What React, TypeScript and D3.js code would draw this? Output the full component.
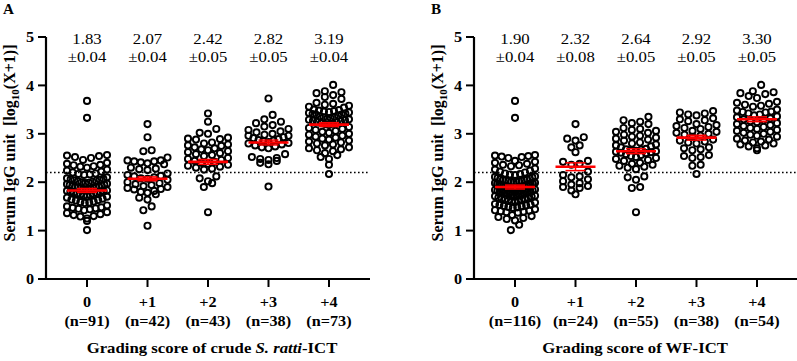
import * as d3 from "d3";

// grading score groups
const categories = ["0", "+1", "+2", "+3", "+4"];

// crude S. ratti-ICT
const countsA = [91, 42, 43, 38, 73];
const meansA = [1.83, 2.07, 2.42, 2.82, 3.19];
const semsA = [0.04, 0.04, 0.05, 0.05, 0.04];

// WF-ICT
const countsB = [116, 24, 55, 38, 54];
const meansB = [1.9, 2.32, 2.64, 2.92, 3.3];
const semsB = [0.04, 0.08, 0.05, 0.05, 0.05];

const cutoff = 2.2;

// individual serum IgG values, log10(X+1)
const a0 = [
  3.68, 3.33, 2.56, 2.55, 2.54, 2.52, 2.5, 2.46, 2.4, 2.38, 2.36, 2.35, 2.33, 2.32,
  2.3, 2.26, 2.24, 2.22, 2.2, 2.18, 2.17, 2.16, 2.15, 2.1, 2.08, 2.07, 2.06, 2.05,
  2.04, 2.03, 2.02, 2.01, 2.0, 1.99, 1.98, 1.97, 1.96, 1.95, 1.94, 1.93, 1.92, 1.91,
  1.9, 1.89, 1.89, 1.88, 1.87, 1.86, 1.85, 1.85, 1.84, 1.83, 1.82, 1.81, 1.8, 1.79,
  1.78, 1.77, 1.76, 1.75, 1.74, 1.73, 1.72, 1.71, 1.7, 1.68, 1.66, 1.64, 1.63, 1.62,
  1.6, 1.59, 1.58, 1.57, 1.52, 1.5, 1.48, 1.47, 1.46, 1.45, 1.44, 1.42, 1.38, 1.36,
  1.34, 1.32, 1.3, 1.29, 1.25, 1.2, 1.01,
];
const a1 = [
  3.2, 2.93, 2.66, 2.64, 2.51, 2.45, 2.43, 2.41, 2.39, 2.37, 2.43, 2.45, 2.3, 2.28,
  2.27, 2.25, 2.18, 2.15, 2.13, 2.12, 2.1, 2.08, 2.07, 2.05, 2.0, 1.98, 1.96, 1.94,
  1.92, 1.9, 1.88, 1.86, 1.85, 1.82, 1.8, 1.78, 1.75, 1.68, 1.64, 1.5, 1.42, 1.1,
];
const a2 = [
  3.42, 3.25, 3.1, 3.02, 3.0, 2.92, 2.9, 2.89, 2.88, 2.82, 2.8, 2.78, 2.76, 2.75,
  2.72, 2.7, 2.68, 2.66, 2.64, 2.62, 2.6, 2.58, 2.56, 2.54, 2.5, 2.48, 2.46, 2.44,
  2.42, 2.4, 2.38, 2.36, 2.34, 2.32, 2.3, 2.28, 2.26, 2.12, 2.08, 2.02, 1.98, 1.9,
  1.38,
];
const a3 = [
  3.73, 3.39, 3.3, 3.25, 3.22, 3.18, 3.15, 3.1, 3.08, 3.05, 3.03, 3.0, 2.98, 2.96,
  2.96, 2.93, 2.91, 2.89, 2.87, 2.86, 2.85, 2.83, 2.81, 2.8, 2.78, 2.76, 2.74, 2.72,
  2.7, 2.58, 2.52, 2.5, 2.48, 2.46, 2.44, 2.4, 2.37, 1.91,
];
const a4 = [
  4.01, 3.88, 3.86, 3.84, 3.8, 3.76, 3.72, 3.64, 3.62, 3.6, 3.58, 3.56, 3.54, 3.5,
  3.49, 3.48, 3.47, 3.46, 3.45, 3.44, 3.43, 3.42, 3.41, 3.4, 3.39, 3.38, 3.36, 3.35,
  3.34, 3.32, 3.31, 3.3, 3.29, 3.28, 3.27, 3.26, 3.25, 3.24, 3.22, 3.21, 3.2, 3.18,
  3.14, 3.12, 3.1, 3.08, 3.06, 3.04, 3.02, 3.0, 2.98, 2.96, 2.94, 2.92, 2.9, 2.88,
  2.86, 2.84, 2.82, 2.8, 2.78, 2.76, 2.72, 2.7, 2.68, 2.66, 2.64, 2.6, 2.56, 2.52,
  2.48, 2.36, 2.17,
];

const b0 = [
  3.68, 3.33, 2.56, 2.55, 2.54, 2.53, 2.52, 2.5, 2.44, 2.42, 2.4, 2.38, 2.36, 2.35,
  2.33, 2.28, 2.26, 2.24, 2.22, 2.2, 2.18, 2.17, 2.16, 2.15, 2.12, 2.11, 2.1, 2.09,
  2.08, 2.07, 2.06, 2.05, 2.05, 2.04, 2.03, 2.03, 2.02, 2.01, 2.01, 2.0, 1.99, 1.98,
  1.97, 1.96, 1.96, 1.95, 1.94, 1.94, 1.93, 1.92, 1.92, 1.91, 1.9, 1.9, 1.89, 1.88,
  1.88, 1.87, 1.86, 1.86, 1.85, 1.84, 1.83, 1.82, 1.82, 1.81, 1.8, 1.8, 1.79, 1.78,
  1.78, 1.77, 1.76, 1.76, 1.75, 1.74, 1.74, 1.73, 1.72, 1.71, 1.7, 1.68, 1.67, 1.66,
  1.65, 1.64, 1.63, 1.62, 1.61, 1.6, 1.59, 1.58, 1.55, 1.54, 1.53, 1.52, 1.51, 1.5,
  1.49, 1.48, 1.47, 1.44, 1.42, 1.41, 1.4, 1.39, 1.38, 1.37, 1.32, 1.3, 1.28, 1.26,
  1.24, 1.21, 1.12, 1.01,
];
const b1 = [
  3.2, 2.93, 2.9, 2.86, 2.76, 2.72, 2.62, 2.44, 2.42, 2.38, 2.36, 2.22, 2.15, 2.12,
  2.1, 2.06, 2.02, 1.98, 1.95, 1.92, 1.9, 1.88, 1.83, 1.75,
];
const b2 = [
  3.35, 3.28, 3.25, 3.22, 3.2, 3.12, 3.1, 3.08, 3.06, 3.04, 3.02, 2.98, 2.96, 2.94,
  2.92, 2.9, 2.88, 2.86, 2.82, 2.8, 2.78, 2.76, 2.74, 2.72, 2.69, 2.68, 2.67, 2.66,
  2.65, 2.64, 2.63, 2.62, 2.61, 2.6, 2.58, 2.56, 2.54, 2.52, 2.5, 2.48, 2.46, 2.44,
  2.4, 2.38, 2.36, 2.34, 2.32, 2.3, 2.27, 2.12, 2.1, 2.05, 1.9, 1.88, 1.38,
];
const b3 = [
  3.47, 3.44, 3.42, 3.4, 3.38, 3.32, 3.3, 3.28, 3.26, 3.2, 3.18, 3.16, 3.14, 3.12,
  3.1, 3.06, 3.04, 3.02, 3.0, 2.98, 2.96, 2.94, 2.88, 2.86, 2.84, 2.82, 2.8, 2.72,
  2.7, 2.68, 2.66, 2.56, 2.54, 2.52, 2.5, 2.36, 2.34, 2.17,
];
const b4 = [
  4.01, 3.88, 3.86, 3.84, 3.82, 3.78, 3.74, 3.66, 3.64, 3.62, 3.6, 3.58, 3.56, 3.5,
  3.48, 3.46, 3.45, 3.44, 3.42, 3.4, 3.38, 3.36, 3.34, 3.32, 3.3, 3.28, 3.26, 3.24,
  3.22, 3.2, 3.18, 3.16, 3.14, 3.12, 3.1, 3.08, 3.06, 3.04, 3.02, 3.0, 2.98, 2.96,
  2.94, 2.9, 2.88, 2.86, 2.84, 2.82, 2.8, 2.78, 2.76, 2.74, 2.7, 2.66,
];

const groupsA = [a0, a1, a2, a3, a4];
const groupsB = [b0, b1, b2, b3, b4];

const W = 797;
const H = 361;
const FONT = "'Liberation Serif', 'Times New Roman', serif";
const SX = 1.08; // slightly widened lettering

const y = d3.scaleLinear().domain([0, 5]).range([279, 37]);

// scatter layout: bin into rows, spread each row sideways, lowest value in the middle
const R = 3.1;
const GAP = 8.3;
const HALF = 20;
const BIN = 0.13;

function swarm(values: number[], cx: number) {
  const sorted = [...values].sort((p, q) => q - p);
  const rows: number[][] = [];
  let cur: number[] = [];
  for (const v of sorted) {
    if (cur.length && cur[0] - v >= BIN) {
      rows.push(cur);
      cur = [];
    }
    cur.push(v);
  }
  if (cur.length) rows.push(cur);

  const out: { x: number; y: number }[] = [];
  rows.forEach((row) => {
    const k = row.length;
    const step = k > 1 ? Math.min(GAP, (2 * HALF) / (k - 1)) : 0;
    const slots = d3
      .range(k)
      .map((i) => (i - (k - 1) / 2) * step)
      .sort((p, q) => Math.abs(p) - Math.abs(q) || p - q);
    const asc = [...row].sort((p, q) => p - q);
    asc.forEach((v, i) => out.push({ x: cx + slots[i], y: y(v) }));
  });
  return out;
}

function Label({ x, y: ty, children, ...rest }: any) {
  return (
    <text transform={`translate(${x},${ty}) scale(${SX},1)`} {...rest}>
      {children}
    </text>
  );
}

type PanelProps = {
  offset: number;
  letter: string;
  groups: number[][];
  means: number[];
  sems: number[];
  counts: number[];
  title: React.ReactNode;
  titleX: number;
};

function Panel({ offset, letter, groups, means, sems, counts, title, titleX }: PanelProps) {
  const axisX = offset + 46;
  const axisEnd = offset + 370;
  const x = d3.scalePoint<string>().domain(categories).range([axisX, axisEnd]).padding(0.678);
  const yTicks = y.ticks(5);

  return (
    <g fontFamily={FONT}>
      <Label x={offset + 3} y={14} fontSize={14} fontWeight="bold">
        {letter}
      </Label>

      {/* y axis label */}
      <text
        transform={`translate(${offset + 15},${143}) rotate(-90)`}
        textAnchor="middle"
        fontSize={16}
        fontWeight="bold"
      >
        {"Serum IgG unit\u00a0\u00a0[log"}
        <tspan fontSize={11} dy={4}>
          10
        </tspan>
        <tspan dy={-4}>(X+1)]</tspan>
      </text>

      {/* cut-off */}
      <line
        x1={axisX}
        x2={axisEnd}
        y1={y(cutoff)}
        y2={y(cutoff)}
        stroke="#000"
        strokeWidth={1.6}
        strokeDasharray="1.6,2.4"
      />

      {/* axes */}
      <line x1={axisX} x2={axisX} y1={y(0)} y2={y(5)} stroke="#000" strokeWidth={2.2} />
      <line x1={axisX - 8} x2={axisEnd} y1={y(0)} y2={y(0)} stroke="#000" strokeWidth={2.2} />
      {yTicks.map((t) => (
        <g key={t}>
          <line x1={axisX - 8} x2={axisX} y1={y(t)} y2={y(t)} stroke="#000" strokeWidth={2} />
          <Label x={axisX - 12} y={y(t)} dy="0.34em" textAnchor="end" fontSize={15} fontWeight="bold">
            {t}
          </Label>
        </g>
      ))}
      {categories.map((c, i) => (
        <g key={c}>
          <line x1={x(c)} x2={x(c)} y1={y(0)} y2={y(0) + 8} stroke="#000" strokeWidth={2} />
          <Label x={x(c)} y={307} textAnchor="middle" fontSize={15} fontWeight="bold">
            {c}
          </Label>
          <Label x={x(c)} y={326} textAnchor="middle" fontSize={15} fontWeight="bold">
            (n={counts[i]})
          </Label>
          <Label x={x(c)} y={44} textAnchor="middle" fontSize={15.5}>
            {means[i].toFixed(2)}
          </Label>
          <Label x={x(c)} y={62} textAnchor="middle" fontSize={15.5}>
            ±{sems[i].toFixed(2)}
          </Label>
        </g>
      ))}

      <Label x={titleX} y={353} textAnchor="middle" fontSize={15.5} fontWeight="bold">
        {title}
      </Label>

      {/* points */}
      {groups.map((vals, i) =>
        swarm(vals, x(categories[i])!).map((p, j) => (
          <circle key={`${i}-${j}`} cx={p.x} cy={p.y} r={R} fill="none" stroke="#000" strokeWidth={1.9} />
        ))
      )}

      {/* mean ± SEM */}
      {categories.map((c, i) => {
        const cx = x(c)!;
        const m = y(means[i]);
        const hi = y(means[i] + sems[i]);
        const lo = y(means[i] - sems[i]);
        return (
          <g key={`m-${c}`} stroke="#ff0000">
            <line x1={cx} x2={cx} y1={hi} y2={lo} strokeWidth={1.5} />
            <line x1={cx - 10} x2={cx + 10} y1={hi} y2={hi} strokeWidth={1.5} />
            <line x1={cx - 10} x2={cx + 10} y1={lo} y2={lo} strokeWidth={1.5} />
            <line x1={cx - 20} x2={cx + 20} y1={m} y2={m} strokeWidth={2.6} />
          </g>
        );
      })}
    </g>
  );
}

export default function App() {
  return (
    <svg
      width={W}
      height={H}
      viewBox={`0 0 ${W} ${H}`}
      style={{ position: "absolute", left: 0, top: 0, background: "#fff" }}
    >
      <rect width={W} height={H} fill="#fff" />
      <Panel
        offset={0}
        letter="A"
        groups={groupsA}
        means={meansA}
        sems={semsA}
        counts={countsA}
        titleX={212}
        title={
          <>
            Grading score of crude <tspan fontStyle="italic">S. ratti</tspan>-ICT
          </>
        }
      />
      <Panel
        offset={428}
        letter="B"
        groups={groupsB}
        means={meansB}
        sems={semsB}
        counts={countsB}
        titleX={635}
        title="Grading score of WF-ICT"
      />
    </svg>
  );
}
